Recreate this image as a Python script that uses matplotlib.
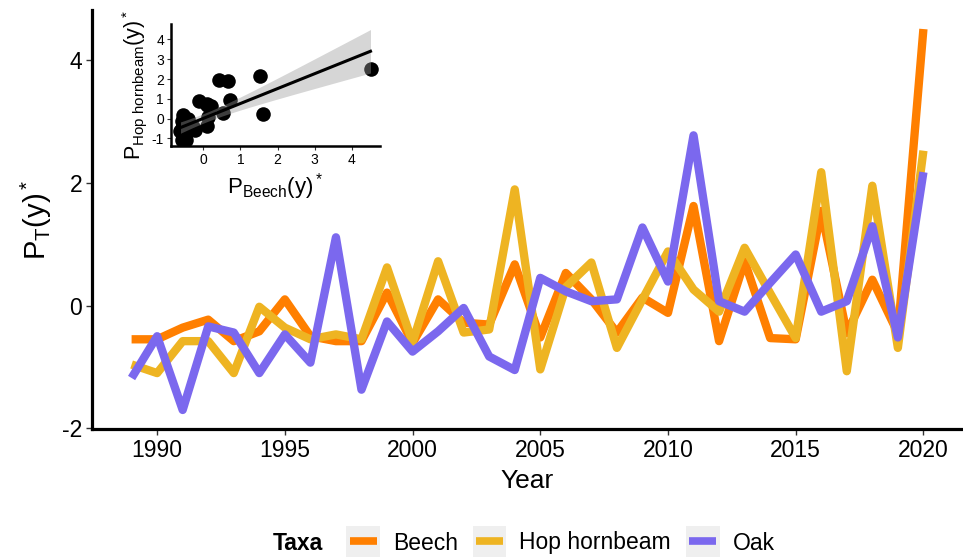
import numpy as np
import matplotlib
matplotlib.use('Agg')
import matplotlib.pyplot as plt
from matplotlib.lines import Line2D
from matplotlib.patches import Rectangle
from matplotlib.legend_handler import HandlerLine2D

plt.rcParams['font.family'] = ['Liberation Sans', 'DejaVu Sans']
plt.rcParams['mathtext.fontset'] = 'custom'
plt.rcParams['mathtext.rm'] = 'Liberation Sans'
plt.rcParams['mathtext.it'] = 'Liberation Sans:italic'
plt.rcParams['mathtext.default'] = 'regular'
plt.rcParams['axes.unicode_minus'] = False

# standardised seed production per year
years = list(range(1989, 2021))
beech = [-0.55, -0.55, -0.36, -0.23, -0.58, -0.42, 0.10, -0.50,
         -0.58, -0.58, 0.21, -0.61, 0.10, -0.28, -0.31, 0.67,
         -0.52, 0.53, 0.10, -0.44, 0.13, -0.12, 1.62, -0.58,
         0.72, -0.53, -0.55, 1.54, -0.45, 0.42, -0.45, 4.50]
hop_hornbeam = [-0.96, -1.10, -0.58, -0.58, -1.10, -0.02, -0.36, -0.55,
                -0.47, -0.55, 0.62, -0.60, 0.72, -0.44, -0.39, 1.89,
                -1.04, 0.30, 0.70, -0.69, 0.10, 0.88, 0.26, -0.10,
                0.94, 0.20, -0.53, 2.17, -1.07, 1.95, -0.69, 2.52]
oak = [-1.18, -0.50, -1.70, -0.34, -0.44, -1.10, -0.47, -0.93,
       1.11, -1.37, -0.26, -0.75, -0.42, -0.04, -0.83, -1.05,
       0.45, 0.23, 0.07, 0.10, 1.27, 0.39, 2.77, 0.07,
       -0.10, 0.37, 0.83, -0.10, 0.07, 1.29, -0.52, 2.17]

taxa = ['Beech', 'Hop hornbeam', 'Oak']
colors = ['#FF7F00', '#EEB422', '#7B68EE']


class KeyWithBackground(HandlerLine2D):
    """Legend key with a light grey box behind the line, like ggplot."""
    def create_artists(self, legend, orig_handle, xdescent, ydescent,
                       width, height, fontsize, trans):
        arts = super().create_artists(legend, orig_handle, xdescent, ydescent,
                                      width, height, fontsize, trans)
        cy = height / 2 - ydescent
        bg = Rectangle((-xdescent - 2.2, cy - 11.5), width + 4.4, 23,
                       facecolor='#EFEFEF', edgecolor='none', transform=trans)
        return [bg] + arts


fig = plt.figure(figsize=(9.63, 5.6), dpi=100)

# main time series
ax = fig.add_axes([92 / 963, 1 - 429 / 560, 871 / 963, 419 / 560])
for name, vals, col in zip(taxa, [beech, hop_hornbeam, oak], colors):
    ax.plot(years, vals, color=col, lw=6, solid_capstyle='butt',
            solid_joinstyle='round', label=name)
ax.margins(x=0.05, y=0.05)
ax.set_xticks(range(1990, 2021, 5))
ax.set_yticks([-2, 0, 2, 4])
for s in ['top', 'right']:
    ax.spines[s].set_visible(False)
for s in ['left', 'bottom']:
    ax.spines[s].set_linewidth(2.3)
ax.tick_params(labelsize=16.5, length=4, width=1, pad=3, color='#333333')
ax.set_xlabel('Year', fontsize=19, labelpad=5)
ax.set_ylabel(r'$P_T(y)^*$', fontsize=21, labelpad=6)

# inset: beech vs hop hornbeam with linear fit
ins = fig.add_axes([171 / 963, 1 - 146 / 560, 209 / 963, 122 / 560])
b = np.array(beech)
h = np.array(hop_hornbeam)
ins.scatter(b, h, s=110, color='black', zorder=2, linewidths=0)
slope, intercept = np.polyfit(b, h, 1)
n = len(b)
resid = h - (slope * b + intercept)
s_err = np.sqrt(np.sum(resid ** 2) / (n - 2))
xs = np.linspace(b.min(), b.max(), 100)
pred = slope * xs + intercept
se = s_err * np.sqrt(1 / n + (xs - b.mean()) ** 2 / np.sum((b - b.mean()) ** 2))
t_crit = 2.042
ins.fill_between(xs, pred - t_crit * se, pred + t_crit * se,
                 color='#999999', alpha=0.4, lw=0, zorder=3)
ins.plot(xs, pred, color='black', lw=2.2, zorder=4)
ins.margins(0.05)
ins.set_xticks([0, 1, 2, 3, 4])
ins.set_yticks([-1, 0, 1, 2, 3, 4])
ins.patch.set_alpha(0)
for s in ['top', 'right']:
    ins.spines[s].set_visible(False)
for s in ['left', 'bottom']:
    ins.spines[s].set_linewidth(1.8)
ins.tick_params(labelsize=10, length=3, width=0.8, pad=2, color='#333333')
ins.set_xlabel(r'$P_{Beech}(y)^*$', fontsize=16, labelpad=3)
ins.set_ylabel(r'$P_{Hop\ hornbeam}(y)^*$', fontsize=15.5, labelpad=2)

# legend along the bottom
handles = [Line2D([], [], color=c, lw=5.5, solid_capstyle='butt') for c in colors]
fig.legend(handles, taxa, loc='center', bbox_to_anchor=(562 / 963, 1 - 543 / 560),
           ncol=3, frameon=False, fontsize=16.5, handlelength=1.2,
           handletextpad=0.7, columnspacing=0.78,
           handler_map={Line2D: KeyWithBackground()})
fig.text(273 / 963, 1 - 543 / 560, 'Taxa', fontsize=16.5, fontweight='bold',
         ha='left', va='center')

fig.savefig('out.png', dpi=100)
